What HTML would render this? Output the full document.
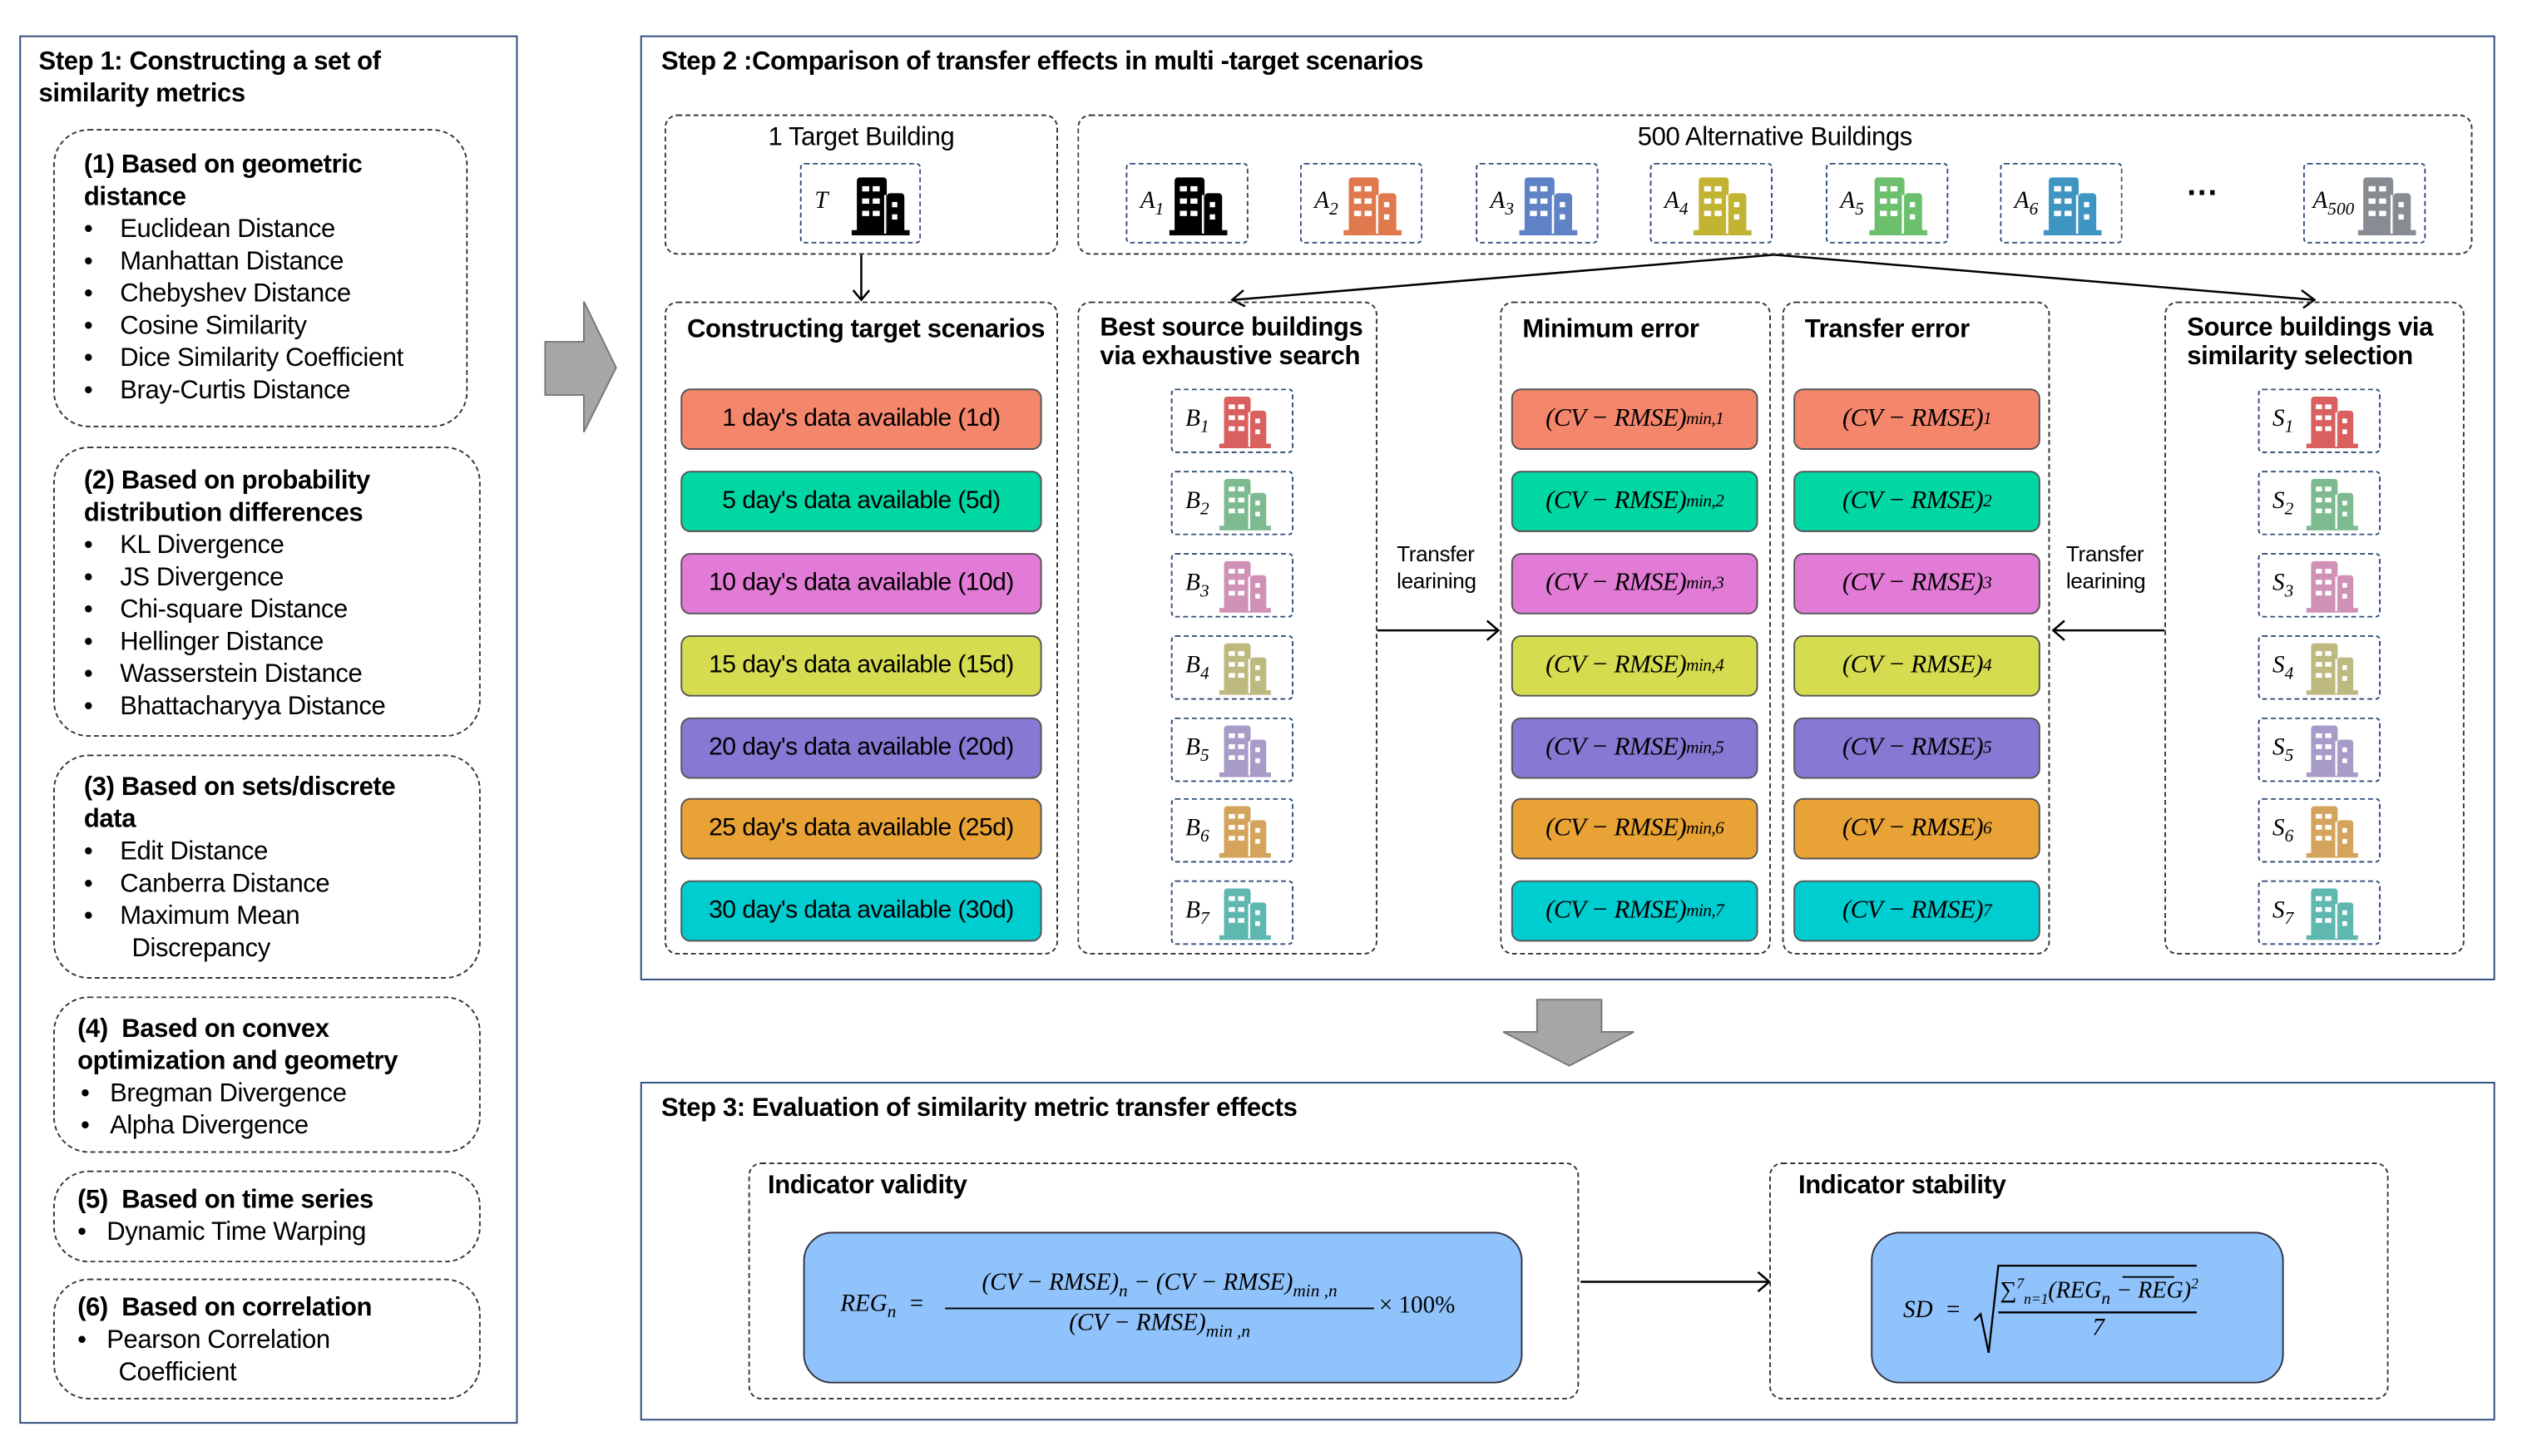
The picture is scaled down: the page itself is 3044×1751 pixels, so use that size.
<!DOCTYPE html>
<html><head><meta charset="utf-8"><style>
*{margin:0;padding:0;box-sizing:border-box}
html,body{width:3044px;height:1751px;overflow:hidden;background:#fff}
#w{position:absolute;left:0;top:0;width:1570px;height:903px;transform:scale(1.939);transform-origin:0 0;font-family:"Liberation Sans",sans-serif;color:#000}
.a{position:absolute}
.solid{position:absolute;border:1.6px solid #2f4a78}
.dash{position:absolute;border:1.3px dashed #333;border-radius:8px}
.rd{border-radius:22px}
.t{position:absolute;font-weight:bold;font-size:16px;line-height:20px;white-space:nowrap;letter-spacing:-0.2px}
.li{position:absolute;font-size:16px;line-height:20px;white-space:nowrap;letter-spacing:-0.2px}
.bar{position:absolute;height:38px;border:1px solid #555;border-radius:6px;font-size:15.5px;display:flex;align-items:center;justify-content:center;white-space:nowrap;letter-spacing:-0.3px}
.m{font-family:"Liberation Serif",serif;font-style:italic;font-size:16px}
.ib{position:absolute;width:76px;height:40px;border:1.3px dashed #2f4a78;border-radius:3px}
.ib .l{position:absolute;left:8px;top:10px;font-family:"Liberation Serif",serif;font-style:italic;font-size:15px}
.ib svg{position:absolute;right:12px;top:4px}
sub{font-size:11px}
</style></head><body><div id="w">
<svg width="0" height="0" style="position:absolute"><defs>
<g id="bd"><rect x="3" y="0" width="17" height="32" rx="2"/><rect x="20" y="9" width="10" height="23" rx="2"/><rect x="0" y="30" width="33" height="3"/>
<g fill="#fff"><rect x="6" y="5" width="4" height="3"/><rect x="12" y="5" width="4" height="3"/><rect x="6" y="12" width="4" height="3"/><rect x="12" y="12" width="4" height="3"/><rect x="6" y="19" width="4" height="3"/><rect x="12" y="19" width="4" height="3"/><rect x="23" y="14" width="3" height="3"/><rect x="23" y="21" width="3" height="3"/><rect x="18.5" y="10" width="1.2" height="22"/></g></g>
</defs></svg>

<!-- Step 1 -->
<div class="solid" style="left:12px;top:22px;width:309px;height:861px"></div>
<div class="t" style="left:24px;top:29px">Step 1: Constructing a set of<br>similarity metrics</div>
<div class="dash rd" style="left:33px;top:80px;width:257px;height:185px"></div>
<div class="t" style="left:52px;top:93px">(1) Based on geometric<br>distance</div>
<div class="li" style="left:52px;top:133px">•&nbsp;&nbsp;&nbsp;&nbsp;Euclidean Distance<br>•&nbsp;&nbsp;&nbsp;&nbsp;Manhattan Distance<br>•&nbsp;&nbsp;&nbsp;&nbsp;Chebyshev Distance<br>•&nbsp;&nbsp;&nbsp;&nbsp;Cosine Similarity<br>•&nbsp;&nbsp;&nbsp;&nbsp;Dice Similarity Coefficient<br>•&nbsp;&nbsp;&nbsp;&nbsp;Bray-Curtis Distance</div>
<div class="dash rd" style="left:33px;top:277px;width:265px;height:180px"></div>
<div class="t" style="left:52px;top:289px">(2) Based on probability<br>distribution differences</div>
<div class="li" style="left:52px;top:329px">•&nbsp;&nbsp;&nbsp;&nbsp;KL Divergence<br>•&nbsp;&nbsp;&nbsp;&nbsp;JS Divergence<br>•&nbsp;&nbsp;&nbsp;&nbsp;Chi-square Distance<br>•&nbsp;&nbsp;&nbsp;&nbsp;Hellinger Distance<br>•&nbsp;&nbsp;&nbsp;&nbsp;Wasserstein Distance<br>•&nbsp;&nbsp;&nbsp;&nbsp;Bhattacharyya Distance</div>
<div class="dash rd" style="left:33px;top:468px;width:265px;height:139px"></div>
<div class="t" style="left:52px;top:479px">(3) Based on sets/discrete<br>data</div>
<div class="li" style="left:52px;top:519px">•&nbsp;&nbsp;&nbsp;&nbsp;Edit Distance<br>•&nbsp;&nbsp;&nbsp;&nbsp;Canberra Distance<br>•&nbsp;&nbsp;&nbsp;&nbsp;Maximum Mean<br>&nbsp;&nbsp;&nbsp;&nbsp;&nbsp;&nbsp;&nbsp;Discrepancy</div>
<div class="dash rd" style="left:33px;top:618px;width:265px;height:97px"></div>
<div class="t" style="left:48px;top:629px">(4)&nbsp; Based on convex<br>optimization and geometry</div>
<div class="li" style="left:50px;top:669px">•&nbsp;&nbsp;&nbsp;Bregman Divergence<br>•&nbsp;&nbsp;&nbsp;Alpha Divergence</div>
<div class="dash rd" style="left:33px;top:726px;width:265px;height:57px"></div>
<div class="t" style="left:48px;top:735px">(5)&nbsp; Based on time series</div>
<div class="li" style="left:48px;top:755px">•&nbsp;&nbsp;&nbsp;Dynamic Time Warping</div>
<div class="dash rd" style="left:33px;top:793px;width:265px;height:75px"></div>
<div class="t" style="left:48px;top:802px">(6)&nbsp; Based on correlation</div>
<div class="li" style="left:48px;top:822px">•&nbsp;&nbsp;&nbsp;Pearson Correlation<br>&nbsp;&nbsp;&nbsp;&nbsp;&nbsp;&nbsp;Coefficient</div>

<!-- arrows -->
<svg class="a" style="left:0;top:0" width="1570" height="903">
<polygon points="338,212 362,212 362,187 382,228 362,268 362,245 338,245" fill="#a6a6a6" stroke="#777" stroke-width="1"/>
<polygon points="953,620 993,620 993,640 1013,640 973,661 932,640 953,640" fill="#a6a6a6" stroke="#777" stroke-width="1"/>
<g stroke="#000" stroke-width="1.3" fill="none">
<line x1="534" y1="158" x2="534" y2="186"/><polyline points="529,180 534,186 539,180"/>
<line x1="1100" y1="158" x2="765" y2="186"/><polyline points="771,180 764,186 772,190"/>
<line x1="1100" y1="158" x2="1435" y2="186"/><polyline points="1427,180 1435,186 1428,191"/>
<line x1="854" y1="391" x2="929" y2="391"/><polyline points="922,385 929,391 922,397"/>
<line x1="1342" y1="391" x2="1273" y2="391"/><polyline points="1280,385 1273,391 1280,397"/>
<line x1="980" y1="795" x2="1097" y2="795"/><polyline points="1090,789 1097,795 1090,801"/>
</g></svg>

<!-- Step 2 -->
<div class="solid" style="left:397px;top:22px;width:1150px;height:586px"></div>
<div class="t" style="left:410px;top:29px">Step 2 :Comparison of transfer effects in multi -target scenarios</div>
<div class="dash" style="left:412px;top:71px;width:244px;height:87px"></div>
<div class="li" style="left:412px;top:76px;width:244px;text-align:center">1 Target Building</div>
<div class="ib" style="left:496px;top:101px;width:75px;height:50px"><span class="l" style="top:15px">T</span><svg width="36" height="36" viewBox="0 0 33 33" style="top:8px;right:6px"><use href="#bd" fill="#000"/></svg></div>
<div class="dash" style="left:668px;top:71px;width:865px;height:87px"></div>
<div class="li" style="left:668px;top:76px;width:865px;text-align:center">500 Alternative Buildings</div>

<div class="ib" style="left:698px;top:101px;height:50px"><span class="l" style="top:15px">A<sub>1</sub></span><svg width="36" height="36" viewBox="0 0 33 33" style="top:8px"><use href="#bd" fill="#000"/></svg></div>
<div class="ib" style="left:806px;top:101px;height:50px"><span class="l" style="top:15px">A<sub>2</sub></span><svg width="36" height="36" viewBox="0 0 33 33" style="top:8px"><use href="#bd" fill="#e07a4e"/></svg></div>
<div class="ib" style="left:915px;top:101px;height:50px"><span class="l" style="top:15px">A<sub>3</sub></span><svg width="36" height="36" viewBox="0 0 33 33" style="top:8px"><use href="#bd" fill="#5f82c6"/></svg></div>
<div class="ib" style="left:1023px;top:101px;height:50px"><span class="l" style="top:15px">A<sub>4</sub></span><svg width="36" height="36" viewBox="0 0 33 33" style="top:8px"><use href="#bd" fill="#c2b332"/></svg></div>
<div class="ib" style="left:1132px;top:101px;height:50px"><span class="l" style="top:15px">A<sub>5</sub></span><svg width="36" height="36" viewBox="0 0 33 33" style="top:8px"><use href="#bd" fill="#6cbf6c"/></svg></div>
<div class="ib" style="left:1240px;top:101px;height:50px"><span class="l" style="top:15px">A<sub>6</sub></span><svg width="36" height="36" viewBox="0 0 33 33" style="top:8px"><use href="#bd" fill="#3f95c2"/></svg></div>
<div class="li" style="left:1356px;top:110px;font-size:20px;font-weight:bold">···</div>
<div class="ib" style="left:1428px;top:101px;height:50px"><span class="l" style="top:15px;left:5px">A<sub>500</sub></span><svg width="36" height="36" viewBox="0 0 33 33" style="top:8px;right:5px"><use href="#bd" fill="#878b92"/></svg></div>

<div class="dash" style="left:412px;top:187px;width:244px;height:405px"></div>
<div class="t" style="left:426px;top:195px">Constructing target scenarios</div>
<div class="dash" style="left:668px;top:187px;width:186px;height:405px"></div>
<div class="t" style="left:682px;top:195px;line-height:18px">Best source buildings<br>via exhaustive search</div>
<div class="dash" style="left:930px;top:187px;width:168px;height:405px"></div>
<div class="t" style="left:944px;top:195px">Minimum error</div>
<div class="dash" style="left:1105px;top:187px;width:166px;height:405px"></div>
<div class="t" style="left:1119px;top:195px">Transfer error</div>
<div class="dash" style="left:1342px;top:187px;width:186px;height:405px"></div>
<div class="t" style="left:1356px;top:195px;line-height:18px">Source buildings via<br>similarity selection</div>
<div class="li" style="left:866px;top:335px;font-size:13.5px;line-height:17px">Transfer<br>learining</div>
<div class="li" style="left:1281px;top:335px;font-size:13.5px;line-height:17px">Transfer<br>learining</div>

<div class="bar" style="left:422px;top:241px;width:224px;background:#f4866c">1 day's data available (1d)</div>
<div class="bar" style="left:422px;top:292px;width:224px;background:#00d7a3">5 day's data available (5d)</div>
<div class="bar" style="left:422px;top:343px;width:224px;background:#e27bd6">10 day's data available (10d)</div>
<div class="bar" style="left:422px;top:394px;width:224px;background:#d6dc50">15 day's data available (15d)</div>
<div class="bar" style="left:422px;top:445px;width:224px;background:#8778d4">20 day's data available (20d)</div>
<div class="bar" style="left:422px;top:495px;width:224px;background:#e8a236">25 day's data available (25d)</div>
<div class="bar" style="left:422px;top:546px;width:224px;background:#00cdd0">30 day's data available (30d)</div>

<div class="bar m" style="left:937px;top:241px;width:153px;background:#f4866c">(CV − RMSE)<sub>min,1</sub></div>
<div class="bar m" style="left:937px;top:292px;width:153px;background:#00d7a3">(CV − RMSE)<sub>min,2</sub></div>
<div class="bar m" style="left:937px;top:343px;width:153px;background:#e27bd6">(CV − RMSE)<sub>min,3</sub></div>
<div class="bar m" style="left:937px;top:394px;width:153px;background:#d6dc50">(CV − RMSE)<sub>min,4</sub></div>
<div class="bar m" style="left:937px;top:445px;width:153px;background:#8778d4">(CV − RMSE)<sub>min,5</sub></div>
<div class="bar m" style="left:937px;top:495px;width:153px;background:#e8a236">(CV − RMSE)<sub>min,6</sub></div>
<div class="bar m" style="left:937px;top:546px;width:153px;background:#00cdd0">(CV − RMSE)<sub>min,7</sub></div>

<div class="bar m" style="left:1112px;top:241px;width:153px;background:#f4866c">(CV − RMSE)<sub>1</sub></div>
<div class="bar m" style="left:1112px;top:292px;width:153px;background:#00d7a3">(CV − RMSE)<sub>2</sub></div>
<div class="bar m" style="left:1112px;top:343px;width:153px;background:#e27bd6">(CV − RMSE)<sub>3</sub></div>
<div class="bar m" style="left:1112px;top:394px;width:153px;background:#d6dc50">(CV − RMSE)<sub>4</sub></div>
<div class="bar m" style="left:1112px;top:445px;width:153px;background:#8778d4">(CV − RMSE)<sub>5</sub></div>
<div class="bar m" style="left:1112px;top:495px;width:153px;background:#e8a236">(CV − RMSE)<sub>6</sub></div>
<div class="bar m" style="left:1112px;top:546px;width:153px;background:#00cdd0">(CV − RMSE)<sub>7</sub></div>

<div class="ib" style="left:726px;top:241px"><span class="l">B<sub>1</sub></span><svg width="34" height="32" viewBox="0 0 33 33"><use href="#bd" fill="#d9605f"/></svg></div>
<div class="ib" style="left:726px;top:292px"><span class="l">B<sub>2</sub></span><svg width="34" height="32" viewBox="0 0 33 33"><use href="#bd" fill="#7dba8f"/></svg></div>
<div class="ib" style="left:726px;top:343px"><span class="l">B<sub>3</sub></span><svg width="34" height="32" viewBox="0 0 33 33"><use href="#bd" fill="#cf92b6"/></svg></div>
<div class="ib" style="left:726px;top:394px"><span class="l">B<sub>4</sub></span><svg width="34" height="32" viewBox="0 0 33 33"><use href="#bd" fill="#bdb97f"/></svg></div>
<div class="ib" style="left:726px;top:445px"><span class="l">B<sub>5</sub></span><svg width="34" height="32" viewBox="0 0 33 33"><use href="#bd" fill="#a79bc8"/></svg></div>
<div class="ib" style="left:726px;top:495px"><span class="l">B<sub>6</sub></span><svg width="34" height="32" viewBox="0 0 33 33"><use href="#bd" fill="#d4a45c"/></svg></div>
<div class="ib" style="left:726px;top:546px"><span class="l">B<sub>7</sub></span><svg width="34" height="32" viewBox="0 0 33 33"><use href="#bd" fill="#5fb8b0"/></svg></div>

<div class="ib" style="left:1400px;top:241px"><span class="l">S<sub>1</sub></span><svg width="34" height="32" viewBox="0 0 33 33"><use href="#bd" fill="#d9605f"/></svg></div>
<div class="ib" style="left:1400px;top:292px"><span class="l">S<sub>2</sub></span><svg width="34" height="32" viewBox="0 0 33 33"><use href="#bd" fill="#7dba8f"/></svg></div>
<div class="ib" style="left:1400px;top:343px"><span class="l">S<sub>3</sub></span><svg width="34" height="32" viewBox="0 0 33 33"><use href="#bd" fill="#cf92b6"/></svg></div>
<div class="ib" style="left:1400px;top:394px"><span class="l">S<sub>4</sub></span><svg width="34" height="32" viewBox="0 0 33 33"><use href="#bd" fill="#bdb97f"/></svg></div>
<div class="ib" style="left:1400px;top:445px"><span class="l">S<sub>5</sub></span><svg width="34" height="32" viewBox="0 0 33 33"><use href="#bd" fill="#a79bc8"/></svg></div>
<div class="ib" style="left:1400px;top:495px"><span class="l">S<sub>6</sub></span><svg width="34" height="32" viewBox="0 0 33 33"><use href="#bd" fill="#d4a45c"/></svg></div>
<div class="ib" style="left:1400px;top:546px"><span class="l">S<sub>7</sub></span><svg width="34" height="32" viewBox="0 0 33 33"><use href="#bd" fill="#5fb8b0"/></svg></div>

<!-- Step 3 -->
<div class="solid" style="left:397px;top:671px;width:1150px;height:210px"></div>
<div class="t" style="left:410px;top:678px">Step 3: Evaluation of similarity metric transfer effects</div>
<div class="dash" style="left:464px;top:721px;width:515px;height:147px"></div>
<div class="t" style="left:476px;top:726px">Indicator validity</div>
<div class="dash" style="left:1097px;top:721px;width:384px;height:147px"></div>
<div class="t" style="left:1115px;top:726px">Indicator stability</div>
<div class="a" style="left:498px;top:764px;width:446px;height:94px;background:#90c3fb;border:1.2px solid #334;border-radius:18px"></div>
<div class="a" style="left:1160px;top:764px;width:256px;height:94px;background:#90c3fb;border:1.2px solid #334;border-radius:18px"></div>
<div class="a m" style="left:521px;top:801px;font-size:15px">REG<sub>n</sub> &nbsp;=</div>
<div class="a" style="left:586px;top:811px;width:266px;border-top:1.2px solid #000"></div>
<div class="a m" style="left:586px;top:788px;width:266px;text-align:center;font-size:15px">(CV − RMSE)<sub>n</sub> − (CV − RMSE)<sub>min ,n</sub></div>
<div class="a m" style="left:586px;top:813px;width:266px;text-align:center;font-size:15px">(CV − RMSE)<sub>min ,n</sub></div>
<div class="a" style="left:855px;top:802px;font-size:15px;font-family:'Liberation Serif',serif">× 100%</div>
<div class="a m" style="left:1180px;top:805px;font-size:15px">SD &nbsp;=</div>
<svg class="a" style="left:1224px;top:783px" width="140" height="60"><polyline points="0,36 4,32 9,56 15,2 138,2" fill="none" stroke="#000" stroke-width="1.2"/><line x1="15" y1="31" x2="138" y2="31" stroke="#000" stroke-width="1.2"/><line x1="92" y1="9" x2="124" y2="9" stroke="#000" stroke-width="1"/></svg>
<div class="a m" style="left:1240px;top:791px;font-size:14.5px;white-space:nowrap">∑<sup style="font-size:9px">7</sup><sub style="font-size:9px">n=1</sub>(REG<sub>n</sub> − REG)<sup style="font-size:9px">2</sup></div>
<div class="a m" style="left:1240px;top:816px;width:122px;text-align:center;font-size:15px">7</div>
</div></body></html>
